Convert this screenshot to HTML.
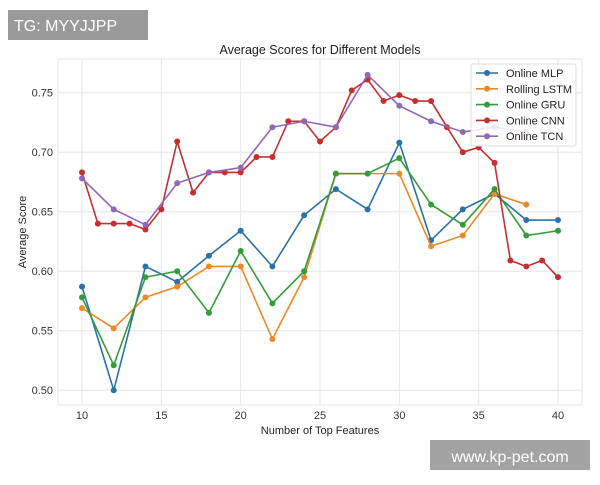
<!DOCTYPE html>
<html><head><meta charset="utf-8"><style>
body{margin:0;background:#fff;width:600px;height:480px;overflow:hidden;font-family:"Liberation Sans",sans-serif}
</style></head><body>
<svg id="s" width="600" height="480" xmlns="http://www.w3.org/2000/svg" font-family="Liberation Sans, sans-serif"></svg>
<script>
const s=document.getElementById('s');
const X=v=>82+(v-10)*15.867, Y=v=>92.7+(0.75-v)/0.05*59.5;
let h='';
h+='<rect x="58" y="59" width="524" height="346" fill="#fff" stroke="#e6e6e6"/>';
for(let v=10;v<=40;v+=5){h+=`<line x1="${X(v)}" x2="${X(v)}" y1="59" y2="405" stroke="#e6e6e6"/><text x="${X(v)}" y="419" font-size="11" fill="#333" text-anchor="middle">${v}</text>`;}
for(let i=0;i<6;i++){const v=0.5+i*0.05;h+=`<line x1="58" x2="582" y1="${Y(v)}" y2="${Y(v)}" stroke="#e6e6e6"/><text x="53" y="${Y(v)+4}" font-size="11" fill="#333" text-anchor="end">${v.toFixed(2)}</text>`;}
h+='<text x="320" y="54" font-size="12.5" fill="#222" text-anchor="middle">Average Scores for Different Models</text>';
h+='<text x="320" y="434" font-size="11" fill="#222" text-anchor="middle">Number of Top Features</text>';
h+='<text transform="translate(26,232) rotate(-90)" font-size="11" fill="#222" text-anchor="middle">Average Score</text>';
const ev=(a,st)=>a.map((v,i)=>[10+i*st,v]);
const S=[
['Online MLP','#2a72a8',ev([.587,.500,.604,.591,.613,.634,.604,.647,.669,.652,.708,.626,.652,.665,.643,.643],2)],
['Rolling LSTM','#ec8a2a',ev([.569,.552,.578,.587,.604,.604,.543,.595,.682,.682,.682,.621,.630,.665,.656],2)],
['Online GRU','#359c3a',ev([.578,.521,.595,.600,.565,.617,.573,.600,.682,.682,.695,.656,.639,.669,.630,.634],2)],
['Online CNN','#c52f30',ev([.683,.640,.640,.640,.635,.652,.709,.666,.683,.683,.683,.696,.696,.726,.726,.709,.721,.752,.761,.743,.748,.743,.743,.721,.700,.704,.691,.609,.604,.609,.595],1)],
['Online TCN','#9068b8',ev([.678,.652,.639,.674,.683,.687,.721,.726,.721,.765,.739,.726,.717,.721,.717],2)]];
S.forEach(([n,c,d])=>{h+=`<polyline fill="none" stroke="${c}" stroke-width="1.6" points="${d.map(p=>X(p[0])+','+Y(p[1])).join(' ')}"/>`;d.forEach(p=>h+=`<circle cx="${X(p[0])}" cy="${Y(p[1])}" r="3" fill="${c}"/>`);});
h+='<rect x="471" y="64" width="105" height="82" fill="#fff" fill-opacity="0.85" stroke="#ddd" rx="2"/>';
S.forEach(([n,c],i)=>{const y=73+i*15.8;h+=`<line x1="476" x2="498" y1="${y}" y2="${y}" stroke="${c}" stroke-width="1.6"/><circle cx="487" cy="${y}" r="3" fill="${c}"/><text x="506" y="${y+4}" font-size="11" fill="#222">${n}</text>`;});
h+='<rect x="8" y="10" width="140" height="30" fill="#9a9a9a"/><text x="14" y="31" font-size="16" fill="#fff">TG: MYYJJPP</text>';
h+='<rect x="430" y="440" width="160" height="30" fill="#a3a3a3"/><text x="510" y="462" font-size="16" fill="#fff" text-anchor="middle">www.kp-pet.com</text>';
s.innerHTML=h;
</script>
</body></html>
